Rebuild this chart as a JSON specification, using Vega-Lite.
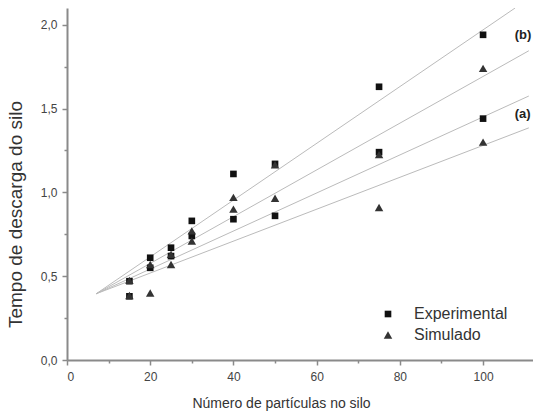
{
  "$schema": "https://vega.github.io/schema/vega-lite/v6.json",
  "width": 466,
  "height": 352,
  "autosize": "none",
  "padding": {"left": 67, "top": 8, "right": 0, "bottom": 54},
  "background": "white",
  "config": {
    "font": "Liberation Sans",
    "view": {"stroke": null},
    "axis": {
      "grid": false,
      "domainColor": "#8a8a8a",
      "domainWidth": 2,
      "tickColor": "#8a8a8a",
      "tickWidth": 1.5,
      "labelColor": "#444",
      "labelFontSize": 12,
      "titleColor": "#333",
      "titleFontWeight": "normal"
    },
    "legend": {
      "title": null,
      "orient": "none",
      "legendX": 313,
      "legendY": 298,
      "labelFontSize": 16,
      "labelColor": "#333",
      "labelOffset": 18,
      "rowPadding": 5,
      "padding": 0
    }
  },
  "datasets": {
    "pts": [
      {"n": 15, "t": 0.47, "serie": "Experimental"},
      {"n": 15, "t": 0.38, "serie": "Experimental"},
      {"n": 20, "t": 0.61, "serie": "Experimental"},
      {"n": 20, "t": 0.55, "serie": "Experimental"},
      {"n": 25, "t": 0.67, "serie": "Experimental"},
      {"n": 25, "t": 0.62, "serie": "Experimental"},
      {"n": 30, "t": 0.83, "serie": "Experimental"},
      {"n": 30, "t": 0.74, "serie": "Experimental"},
      {"n": 40, "t": 1.11, "serie": "Experimental"},
      {"n": 40, "t": 0.84, "serie": "Experimental"},
      {"n": 50, "t": 1.17, "serie": "Experimental"},
      {"n": 50, "t": 0.86, "serie": "Experimental"},
      {"n": 75, "t": 1.63, "serie": "Experimental"},
      {"n": 75, "t": 1.24, "serie": "Experimental"},
      {"n": 100, "t": 1.94, "serie": "Experimental"},
      {"n": 100, "t": 1.44, "serie": "Experimental"},
      {"n": 15, "t": 0.475, "serie": "Simulado"},
      {"n": 15, "t": 0.385, "serie": "Simulado"},
      {"n": 20, "t": 0.57, "serie": "Simulado"},
      {"n": 20, "t": 0.40, "serie": "Simulado"},
      {"n": 25, "t": 0.63, "serie": "Simulado"},
      {"n": 25, "t": 0.57, "serie": "Simulado"},
      {"n": 30, "t": 0.77, "serie": "Simulado"},
      {"n": 30, "t": 0.71, "serie": "Simulado"},
      {"n": 40, "t": 0.97, "serie": "Simulado"},
      {"n": 40, "t": 0.90, "serie": "Simulado"},
      {"n": 50, "t": 1.165, "serie": "Simulado"},
      {"n": 50, "t": 0.965, "serie": "Simulado"},
      {"n": 75, "t": 1.225, "serie": "Simulado"},
      {"n": 75, "t": 0.91, "serie": "Simulado"},
      {"n": 100, "t": 1.74, "serie": "Simulado"},
      {"n": 100, "t": 1.30, "serie": "Simulado"}
    ],
    "fits": [
      {"fit": "b-exp", "n": 7, "t": 0.395},
      {"fit": "b-exp", "n": 107.7, "t": 2.1},
      {"fit": "b-sim", "n": 7, "t": 0.395},
      {"fit": "b-sim", "n": 111, "t": 1.845},
      {"fit": "a-exp", "n": 7, "t": 0.395},
      {"fit": "a-exp", "n": 111, "t": 1.575},
      {"fit": "a-sim", "n": 7, "t": 0.395},
      {"fit": "a-sim", "n": 111, "t": 1.385}
    ],
    "notes": [
      {"n": 107.6, "t": 1.94, "label": "(b)"},
      {"n": 107.6, "t": 1.47, "label": "(a)"}
    ]
  },
  "layer": [
    {
      "data": {"name": "fits"},
      "mark": {"type": "line", "color": "#bbbbbb", "strokeWidth": 1, "clip": true},
      "encoding": {
        "x": {
          "field": "n", "type": "quantitative",
          "scale": {"domain": [0, 112], "nice": false, "zero": false},
          "axis": {
            "title": "Número de partículas no silo",
            "titleFontSize": 14,
            "titleX": 214,
            "titleY": 47,
            "titleBaseline": "alphabetic",
            "values": [0, 10, 20, 30, 40, 50, 60, 70, 80, 90, 100],
            "labelExpr": "datum.value % 20 === 0 ? datum.label : ''",
            "tickSize": {"condition": {"test": "datum.value % 20 === 0", "value": 5}, "value": 3},
            "labelPadding": 6
          }
        },
        "y": {
          "field": "t", "type": "quantitative",
          "scale": {"domain": [0, 2.1], "nice": false},
          "axis": {
            "title": "Tempo de descarga do silo",
            "titleFontSize": 19,
            "titleX": -42,
            "titleY": 206,
            "titleAlign": "center",
            "values": [0, 0.25, 0.5, 0.75, 1, 1.25, 1.5, 1.75, 2],
            "labelExpr": "datum.value % 0.5 === 0 ? replace(format(datum.value, '.1f'), '.', ',') : ''",
            "tickSize": {"condition": {"test": "datum.value % 0.5 === 0", "value": 5}, "value": 3},
            "labelPadding": 5
          }
        },
        "detail": {"field": "fit"}
      }
    },
    {
      "data": {"name": "pts"},
      "mark": {"type": "point", "filled": true, "opacity": 1},
      "encoding": {
        "x": {"field": "n", "type": "quantitative"},
        "y": {"field": "t", "type": "quantitative"},
        "shape": {
          "field": "serie", "type": "nominal",
          "scale": {"domain": ["Experimental", "Simulado"], "range": ["square", "triangle-up"]}
        },
        "color": {
          "field": "serie", "type": "nominal",
          "scale": {"domain": ["Experimental", "Simulado"], "range": ["#111111", "#333333"]}
        },
        "size": {
          "field": "serie", "type": "nominal",
          "scale": {"domain": ["Experimental", "Simulado"], "range": [44, 72]}
        }
      }
    },
    {
      "data": {"name": "notes"},
      "mark": {"type": "text", "align": "left", "baseline": "middle", "fontSize": 13, "fontWeight": "bold", "color": "#222"},
      "encoding": {
        "x": {"field": "n", "type": "quantitative"},
        "y": {"field": "t", "type": "quantitative"},
        "text": {"field": "label"}
      }
    }
  ]
}
